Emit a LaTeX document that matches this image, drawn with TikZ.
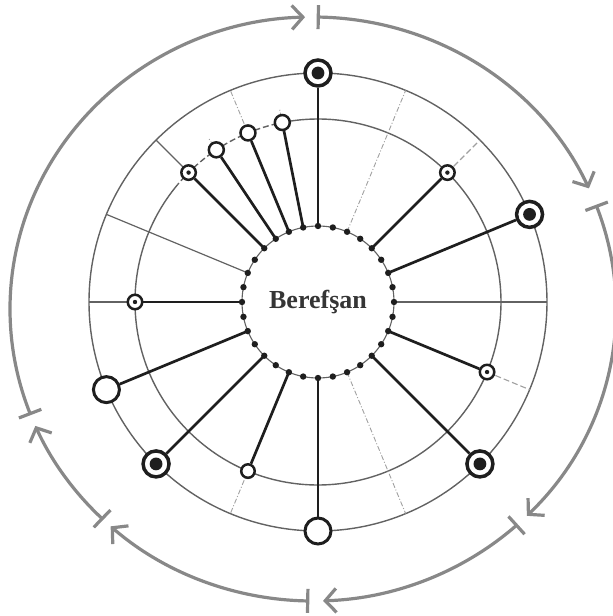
\documentclass[tikz,border=0pt]{standalone}
\usepackage{fontspec}
\setmainfont{Liberation Serif}
\usetikzlibrary{arrows.meta}
\definecolor{ink}{HTML}{1E1E1E}
\definecolor{ringc}{HTML}{626262}
\definecolor{faint}{HTML}{A0A0A0}
\definecolor{arcgrey}{HTML}{888888}
\begin{document}
\begin{tikzpicture}[x=1pt,y=1pt,
 target/.style={circle,draw=ink,line width=3.5,minimum size=26,inner sep=0,fill=white,
   path picture={\fill[ink] (path picture bounding box.center) circle (6.4);}},
 bigopen/.style={circle,draw=ink,line width=3,minimum size=26,inner sep=0,fill=white},
 smalldot/.style={circle,draw=ink,line width=2.5,minimum size=14.5,inner sep=0,fill=white,
   path picture={\fill[ink] (path picture bounding box.center) circle (2.2);}},
 smallopen/.style={circle,draw=ink,line width=2.5,minimum size=15,inner sep=0,fill=white},
 rimdot/.style={circle,fill=ink,minimum size=6.4,inner sep=0},
 conn/.style={draw=ink,line width=2.7},
 ringline/.style={draw=ringc,line width=1.4},
 spoke/.style={draw=ringc,line width=1.2},
 faintspoke/.style={draw=faint,line width=0.9,dash pattern=on 5pt off 2pt on 1pt off 2pt},
 dashspoke/.style={draw=faint,line width=1.1,dash pattern=on 6pt off 3pt},
 arcline/.style={draw=arcgrey,line width=3.2},
 arctip/.style={-{Straight Barb[length=11pt,width=24pt]}}
]
\useasboundingbox (-318,-314) rectangle (295,302);
\foreach \i in {0,...,31} {
  \coordinate (r\i) at (\i*11.25:76);
  \coordinate (m\i) at (\i*11.25:183);
  \coordinate (e\i) at (\i*11.25:229);
}
% rings
\draw[ringline] (0,0) circle (229);
\draw[ringline] (140:183) arc[start angle=140,end angle=460,radius=183];
\draw[ringline,dash pattern=on 6pt off 3pt] (100:183) arc[start angle=100,end angle=140,radius=183];
\draw[ringc,line width=1.1] (0,0) circle (76);
% spokes
\draw[spoke] (r0) -- (e0);
\draw[spoke] (r14) -- (e14);
\draw[spoke] (m16) -- (e16);
\draw[spoke] (m12) -- (e12);
\draw[faintspoke] (r6) -- (e6);
\draw[faintspoke] (r26) -- (e26);
\draw[faintspoke] (m10) -- (e10);
\draw[faintspoke] (m22) -- (e22);
\draw[dashspoke] (m4) -- (e4);
\draw[dashspoke] (m30) -- (e30);
\coordinate (s9a) at (101.25:168); \coordinate (s9b) at (101.25:198);
\coordinate (s11a) at (123.75:168); \coordinate (s11b) at (123.75:198);
\draw[faintspoke] (s9a) -- (s9b);
\draw[faintspoke] (s11a) -- (s11b);
% rim dots
\foreach \i in {0,...,31} \node[rimdot] (d\i) at (r\i) {};
% outer nodes
\node[target] (n8) at (e8) {};
\node[smallopen] (n9) at (m9) {};
\node[smallopen] (n10) at (m10) {};
\node[smallopen] (n11) at (m11) {};
\node[smalldot] (n12) at (m12) {};
\node[smalldot] (n16) at (m16) {};
\node[bigopen] (n18) at (202.5:229) {};
\node[target] (n20) at (e20) {};
\node[smallopen,minimum size=13.5] (n22) at (m22) {};
\node[bigopen] (n24) at (e24) {};
\node[target] (n28) at (e28) {};
\node[smalldot] (n30) at (m30) {};
\node[target] (n2) at (e2) {};
\node[smalldot] (n4) at (m4) {};
% connectors
\foreach \k in {2,4,8,9,10,11,12,16,18,20,22,24,28,30}
  \draw[conn] (d\k.center) -- (n\k);
% centre text
\node[font=\bfseries\fontsize{26}{26}\selectfont,text=ink!90] (title) at (0,0) {Berefşan};
% outer arcs
\begin{scope}[shift={(-5,-7)}]
\draw[arcline,arctip] (89:303 and 292) arc[start angle=89,end angle=24.4,x radius=303,y radius=292];
\draw[arcline,arctip] (20.6:303 and 292) arc[start angle=20.6,end angle=-45.1,x radius=303,y radius=292];
\draw[arcline,arctip] (312.2:303 and 292) arc[start angle=312.2,end angle=271.9,x radius=303,y radius=292];
\draw[arcline,arctip] (269:303 and 292) arc[start angle=269,end angle=228.1,x radius=303,y radius=292];
\draw[arcline,arctip] (225.9:303 and 292) arc[start angle=225.9,end angle=203.6,x radius=303,y radius=292];
\draw[arcline,arctip] (201:303 and 292) arc[start angle=201,end angle=91.5,x radius=303,y radius=292];
\foreach \t in {89,20.6,312.2,269,225.9,201}
  \draw[arcline] (\t:291 and 280) -- (\t:315 and 304);
\end{scope}
\end{tikzpicture}
\end{document}
